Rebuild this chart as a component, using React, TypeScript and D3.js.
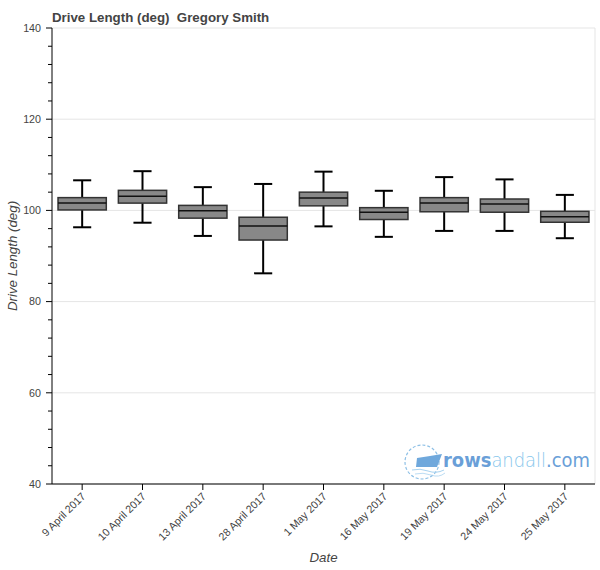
import React from "react";
import * as d3 from "d3";

const dates = [
  "9 April 2017",
  "10 April 2017",
  "13 April 2017",
  "28 April 2017",
  "1 May 2017",
  "16 May 2017",
  "19 May 2017",
  "24 May 2017",
  "25 May 2017",
];
const whiskerLow = [96.3, 97.3, 94.4, 86.2, 96.5, 94.2, 95.5, 95.5, 93.9];
const q1 = [100.1, 101.6, 98.3, 93.5, 101.0, 98.0, 99.7, 99.6, 97.4];
const median = [101.6, 103.1, 99.9, 96.6, 102.7, 99.6, 101.6, 101.4, 98.6];
const q3 = [102.8, 104.4, 101.1, 98.5, 104.0, 100.6, 102.8, 102.5, 99.8];
const whiskerHigh = [106.6, 108.6, 105.1, 105.8, 108.5, 104.3, 107.3, 106.8, 103.4];
const yMajorTicks = [40, 60, 80, 100, 120, 140];
const yDomain = [40, 140];

const W = 600;
const H = 570;
const left = 52;
const right = 595;
const top = 28;
const bottom = 484;

export default function App() {
  const x = d3.scaleBand<string>().domain(dates).range([left, right]).padding(0);
  const y = d3.scaleLinear().domain(yDomain).range([bottom, top]);
  const bw = x.bandwidth();
  const minorTicks = d3.range(yDomain[0], yDomain[1] + 0.001, 4).filter((v) => v % 20 !== 0);
  const font = "Helvetica, Arial, 'Liberation Sans', sans-serif";

  return (
    <svg
      width={W}
      height={H}
      style={{ position: "absolute", left: 0, top: 0, background: "#fff" }}
      fontFamily={font}
    >
      <rect x={0} y={0} width={W} height={H} fill="#fff" />
      {/* grid */}
      {yMajorTicks.map((t) => (
        <line key={"g" + t} x1={left} x2={right} y1={y(t)} y2={y(t)} stroke="#e5e5e5" strokeWidth={1} />
      ))}
      <line x1={right} x2={right} y1={top} y2={bottom} stroke="#e5e5e5" strokeWidth={1} />

      {/* watermark */}
      <g>
        <circle cx={422} cy={462} r={17} fill="none" stroke="#8ec0e6" strokeWidth={1.2} strokeDasharray="3 2" />
        <path
          d={`M417,458 L430,456 L442,454 L437,467 L416,467 Z`}
          fill="#6fa8dc"
        />
        <path d="M412,470 Q420,468 428,471 T444,470" fill="none" stroke="#a9d3f0" strokeWidth={1} />
        <path d="M415,474 Q423,472 431,475 T445,473" fill="none" stroke="#a9d3f0" strokeWidth={0.8} />
        <text x={443} y={467} fontFamily="'DejaVu Sans', Verdana, sans-serif" fontSize={19} textLength={147} lengthAdjust="spacingAndGlyphs">
          <tspan fill="#6a9fd8" fontWeight="bold">rows</tspan>
          <tspan fill="#86c6ec" fontWeight="200">andall</tspan>
          <tspan fill="#6a9fd8">.com</tspan>
        </text>
      </g>

      {/* boxes */}
      {dates.map((d, i) => {
        const cx = (x(d) as number) + bw / 2;
        const boxW = bw * 0.8;
        const capW = bw * 0.3;
        return (
          <g key={d}>
            <line x1={cx} x2={cx} y1={y(q3[i])} y2={y(whiskerHigh[i])} stroke="#000" strokeWidth={2} />
            <line x1={cx} x2={cx} y1={y(q1[i])} y2={y(whiskerLow[i])} stroke="#000" strokeWidth={2} />
            <line x1={cx - capW / 2} x2={cx + capW / 2} y1={y(whiskerHigh[i])} y2={y(whiskerHigh[i])} stroke="#000" strokeWidth={2} />
            <line x1={cx - capW / 2} x2={cx + capW / 2} y1={y(whiskerLow[i])} y2={y(whiskerLow[i])} stroke="#000" strokeWidth={2} />
            <rect
              x={cx - boxW / 2}
              y={y(q3[i])}
              width={boxW}
              height={y(q1[i]) - y(q3[i])}
              fill="#888888"
              stroke="#333"
              strokeWidth={1.5}
            />
            <line x1={cx - boxW / 2} x2={cx + boxW / 2} y1={y(median[i])} y2={y(median[i])} stroke="#111" strokeWidth={1.5} />
          </g>
        );
      })}

      {/* y axis */}
      <line x1={left} x2={left} y1={top} y2={bottom} stroke="#000" strokeWidth={1} />
      {yMajorTicks.map((t) => (
        <g key={"yt" + t}>
          <line x1={left - 6} x2={left} y1={y(t)} y2={y(t)} stroke="#000" strokeWidth={1} />
          <text x={41} y={y(t)} dy="0.35em" textAnchor="end" fontSize={10.7} fill="#444">
            {t}
          </text>
        </g>
      ))}
      {minorTicks.map((t) => (
        <line key={"ym" + t} x1={left - 4} x2={left} y1={y(t)} y2={y(t)} stroke="#000" strokeWidth={1} />
      ))}
      <text
        transform={`translate(17,${(top + bottom) / 2}) rotate(-90)`}
        textAnchor="middle"
        fontSize={13.3}
        fontStyle="italic"
        fill="#444"
      >
        Drive Length (deg)
      </text>

      {/* x axis */}
      <line x1={left} x2={right} y1={bottom} y2={bottom} stroke="#000" strokeWidth={1} />
      {dates.map((d) => {
        const cx = (x(d) as number) + bw / 2;
        return (
          <g key={"xt" + d}>
            <line x1={cx} x2={cx} y1={bottom} y2={bottom + 6} stroke="#000" strokeWidth={1} />
            <text
              transform={`translate(${cx + 4},${bottom + 13}) rotate(-45)`}
              textAnchor="end"
              fontSize={10.7}
              fill="#444"
            >
              {d}
            </text>
          </g>
        );
      })}
      <text x={(left + right) / 2} y={562} textAnchor="middle" fontSize={13.3} fontStyle="italic" fill="#444">
        Date
      </text>

      {/* title */}
      <text x={52} y={22} fontSize={13.3} fontWeight="bold" fill="#444" style={{ whiteSpace: "pre" }}>
        {"Drive Length (deg)  Gregory Smith"}
      </text>
    </svg>
  );
}
